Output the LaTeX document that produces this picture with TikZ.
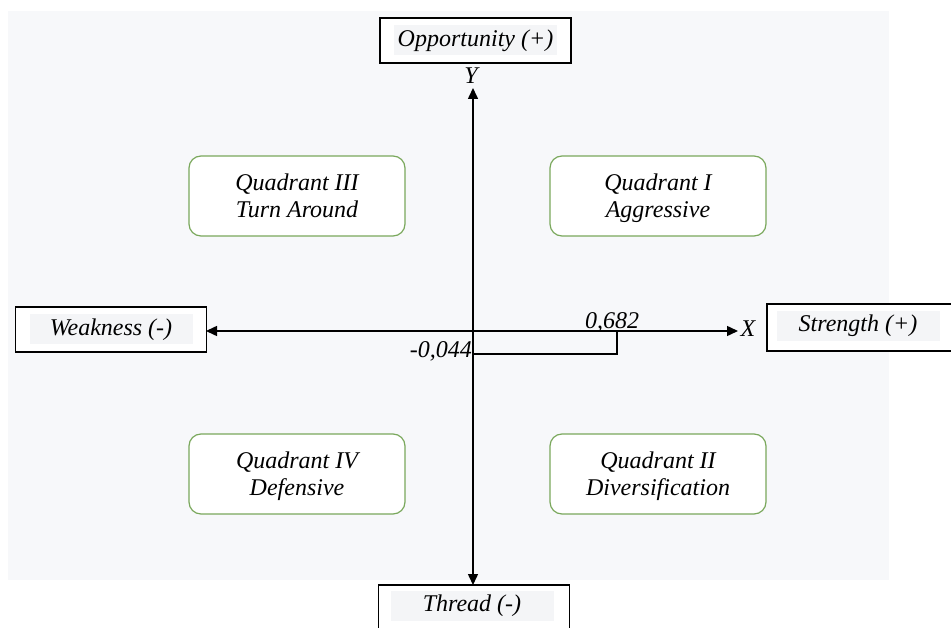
\documentclass[tikz,border=0pt]{standalone}
\usepackage{fontspec}
\setmainfont{Liberation Serif}
\usetikzlibrary{arrows.meta}
\definecolor{bgc}{HTML}{F7F8FA}
\definecolor{txbg}{HTML}{F4F5F7}
\definecolor{qgreen}{HTML}{7AA85C}
\tikzset{
  lab/.style={draw=black, line width=1.3pt, fill=white, minimum width=191pt, minimum height=45pt, inner sep=0pt},
  labtext/.style={fill=txbg, inner sep=0pt, minimum width=163pt, minimum height=30pt, font=\fontsize{24}{26}\selectfont\itshape},
  quad/.style={draw=qgreen, line width=1.2pt, fill=white, rounded corners=12pt, minimum width=216pt, minimum height=80pt},
  quadtext/.style={align=center, inner sep=0pt, yshift=-3pt, font=\fontsize{24}{27}\selectfont\itshape},
  axis/.style={line width=1.5pt, -{Triangle[length=11pt,width=10pt]}},
  plain/.style={line width=1.3pt},
  num/.style={font=\fontsize{24}{26}\selectfont\itshape, inner sep=1pt}
}
\begin{document}
\begin{tikzpicture}[x=1pt,y=-1pt]
\useasboundingbox (0,0) rectangle (951,628);
\fill[bgc] (8,11) rectangle (889,580);
% label boxes
\node[lab] (opp) at (475.5,40.5) {};
\node[labtext] at (opp) {Opportunity (+)};
\node[lab] (weak) at (111,329.5) {};
\node[labtext] at (weak) {Weakness (-)};
\node[lab, minimum width=200pt, minimum height=47pt] (str) at (867,327.5) {};
\node[labtext] at (858,326) {Strength (+)};
\node[lab, minimum height=50pt] (thr) at (474,610) {};
\node[labtext] at (472,606) {Thread (-)};
% axis labels
\node[num] (ylab) at (471,76) {Y};
\node[num] (xlab) at (748,329) {X};
\coordinate (O) at (473,331);
\coordinate (top) at (473,88);
\coordinate (bot) at (473,585);
\coordinate (left) at (206,331);
\coordinate (right) at (738,331);
\draw[axis] (O) -- (top);
\draw[axis] (O) -- (bot);
\draw[axis] (O) -- (left);
\draw[axis] (O) -- (right);
% values
\coordinate (v1) at (617,331);
\coordinate (v2) at (617,354);
\coordinate (v3) at (473,354);
\draw[plain] (v1) -- (v2) -- (v3);
\node[num, anchor=south] (n682) at (612,333) {0,682};
\node[num, anchor=east] (n044) at (473,351) {-0,044};
% quadrants
\node[quad] (q3) at (297,196) {};
\node[quadtext] at (q3) {Quadrant III\strut\\Turn Around\strut};
\node[quad] (q1) at (658,196) {};
\node[quadtext] at (q1) {Quadrant I\strut\\Aggressive\strut};
\node[quad] (q4) at (297,474) {};
\node[quadtext] at (q4) {Quadrant IV\strut\\Defensive\strut};
\node[quad] (q2) at (658,474) {};
\node[quadtext] at (q2) {Quadrant II\strut\\Diversification\strut};
\end{tikzpicture}
\end{document}
